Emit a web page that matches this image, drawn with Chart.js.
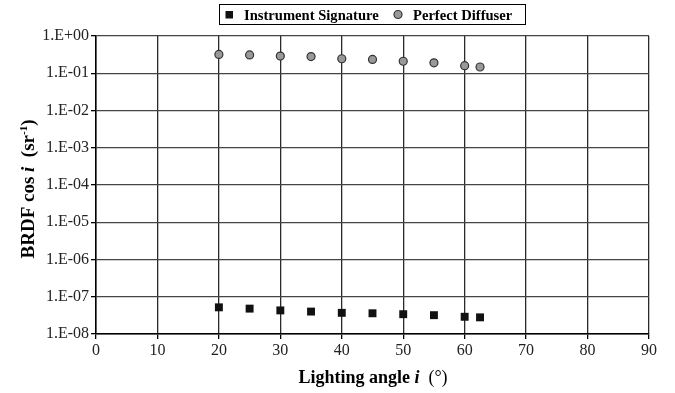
<!DOCTYPE html>
<html>
<head>
<meta charset="utf-8">
<script src="https://cdn.jsdelivr.net/npm/chart.js@4/dist/chart.umd.min.js"></script>
<style>
  html, body { margin: 0; padding: 0; background: #fff; }
</style>
</head>
<body>
<canvas id="brdfChart" width="675" height="393"></canvas>
<script>
// data
const angles = [20, 25, 30, 35, 40, 45, 50, 55, 60, 62.5];
const instrumentSignature = [5.2e-8, 4.8e-8, 4.3e-8, 4.0e-8, 3.7e-8, 3.6e-8, 3.4e-8, 3.2e-8, 2.9e-8, 2.8e-8];
const perfectDiffuser = [0.32, 0.31, 0.29, 0.28, 0.245, 0.235, 0.21, 0.19, 0.16, 0.147];
const yDecades = [1e-8, 1e-7, 1e-6, 1e-5, 1e-4, 1e-3, 1e-2, 1e-1, 1];
const xTicks = [0, 10, 20, 30, 40, 50, 60, 70, 80, 90];

const SERIF = '"Liberation Serif", "Times New Roman", serif';

function toPoints(xs, ys) {
    return xs.map((x, i) => ({ x: x, y: ys[i] }));
}

function sciLabel(v) {
    const e = Math.round(Math.log10(v));
    const sign = e < 0 ? '-' : '+';
    return '1.E' + sign + String(Math.abs(e)).padStart(2, '0');
}

// draws a run of text pieces with their own fonts, starting at x
function drawRuns(ctx, runs, x, y) {
    runs.forEach(r => {
        ctx.font = r.font;
        ctx.fillText(r.text, x, y + (r.dy || 0));
        x += ctx.measureText(r.text).width;
    });
    return x;
}
function runsWidth(ctx, runs) {
    let w = 0;
    runs.forEach(r => { ctx.font = r.font; w += ctx.measureText(r.text).width; });
    return w;
}

const decorPlugin = {
    id: 'decor',
    afterDraw(chart) {
        const ctx = chart.ctx;
        ctx.save();
        ctx.fillStyle = '#000';
        ctx.textBaseline = 'alphabetic';

        // legend box
        ctx.strokeStyle = '#000';
        ctx.lineWidth = 1;
        ctx.strokeRect(219.5, 4.5, 306, 20);
        ctx.fillStyle = '#111';
        ctx.fillRect(225.5, 11, 7.5, 7.5);
        ctx.beginPath();
        ctx.arc(398, 14.5, 4, 0, Math.PI * 2);
        ctx.fillStyle = '#999';
        ctx.fill();
        ctx.lineWidth = 1.2;
        ctx.strokeStyle = '#333';
        ctx.stroke();
        ctx.fillStyle = '#000';
        ctx.font = 'bold 14.6px ' + SERIF;
        ctx.fillText('Instrument Signature', 244, 19.5);
        ctx.fillText('Perfect Diffuser', 413, 19.5);

        // x axis title
        const xRuns = [
            { text: 'Lighting angle ', font: 'bold 18px ' + SERIF },
            { text: 'i', font: 'italic bold 18px ' + SERIF },
            { text: '  (\u00B0)', font: '18px ' + SERIF }
        ];
        const xw = runsWidth(ctx, xRuns);
        drawRuns(ctx, xRuns, 373 - xw / 2, 383);

        // y axis title, rotated
        const yRuns = [
            { text: 'BRDF cos ', font: 'bold 19px ' + SERIF },
            { text: 'i', font: 'italic bold 19px ' + SERIF },
            { text: '  (sr', font: 'bold 19px ' + SERIF },
            { text: '-1', font: 'bold 11px ' + SERIF, dy: -7 },
            { text: ')', font: 'bold 19px ' + SERIF }
        ];
        const yw = runsWidth(ctx, yRuns);
        ctx.translate(34, 189);
        ctx.rotate(-Math.PI / 2);
        drawRuns(ctx, yRuns, -yw / 2, 0);
        ctx.restore();
    }
};

const ctx = document.getElementById('brdfChart').getContext('2d');
new Chart(ctx, {
    type: 'scatter',
    data: {
        datasets: [
            {
                label: 'Instrument Signature',
                data: toPoints(angles, instrumentSignature),
                pointStyle: 'rect',
                pointRadius: 5.6,
                pointHoverRadius: 5.6,
                backgroundColor: '#111',
                borderColor: '#111',
                borderWidth: 0
            },
            {
                label: 'Perfect Diffuser',
                data: toPoints(angles, perfectDiffuser),
                pointStyle: 'circle',
                pointRadius: 4,
                pointHoverRadius: 4,
                backgroundColor: '#999',
                borderColor: '#333',
                borderWidth: 1.2
            }
        ]
    },
    options: {
        responsive: false,
        animation: false,
        devicePixelRatio: 1,
        layout: { padding: { top: 36, right: 26, left: 0, bottom: 0 } },
        plugins: { legend: { display: false }, tooltip: { enabled: false } },
        scales: {
            x: {
                type: 'linear',
                min: 0,
                max: 90,
                afterBuildTicks: axis => { axis.ticks = xTicks.map(v => ({ value: v })); },
                afterFit: axis => { axis.height = 59; },
                grid: { color: '#2a2a2a', lineWidth: 1.3, tickLength: 5, tickColor: '#000' },
                border: { color: '#000', width: 1.5 },
                ticks: { color: '#222', padding: 2, font: { family: SERIF, size: 16 } }
            },
            y: {
                type: 'logarithmic',
                min: 1e-8,
                max: 1,
                afterBuildTicks: axis => { axis.ticks = yDecades.map(v => ({ value: v })); },
                afterFit: axis => { axis.width = 96; },
                grid: { color: '#444', lineWidth: 1.3, tickLength: 5, tickColor: '#000' },
                border: { color: '#000', width: 1.5 },
                ticks: {
                    color: '#222',
                    padding: 2,
                    font: { family: SERIF, size: 16 },
                    callback: v => sciLabel(v)
                }
            }
        }
    },
    plugins: [decorPlugin]
});
</script>
</body>
</html>
